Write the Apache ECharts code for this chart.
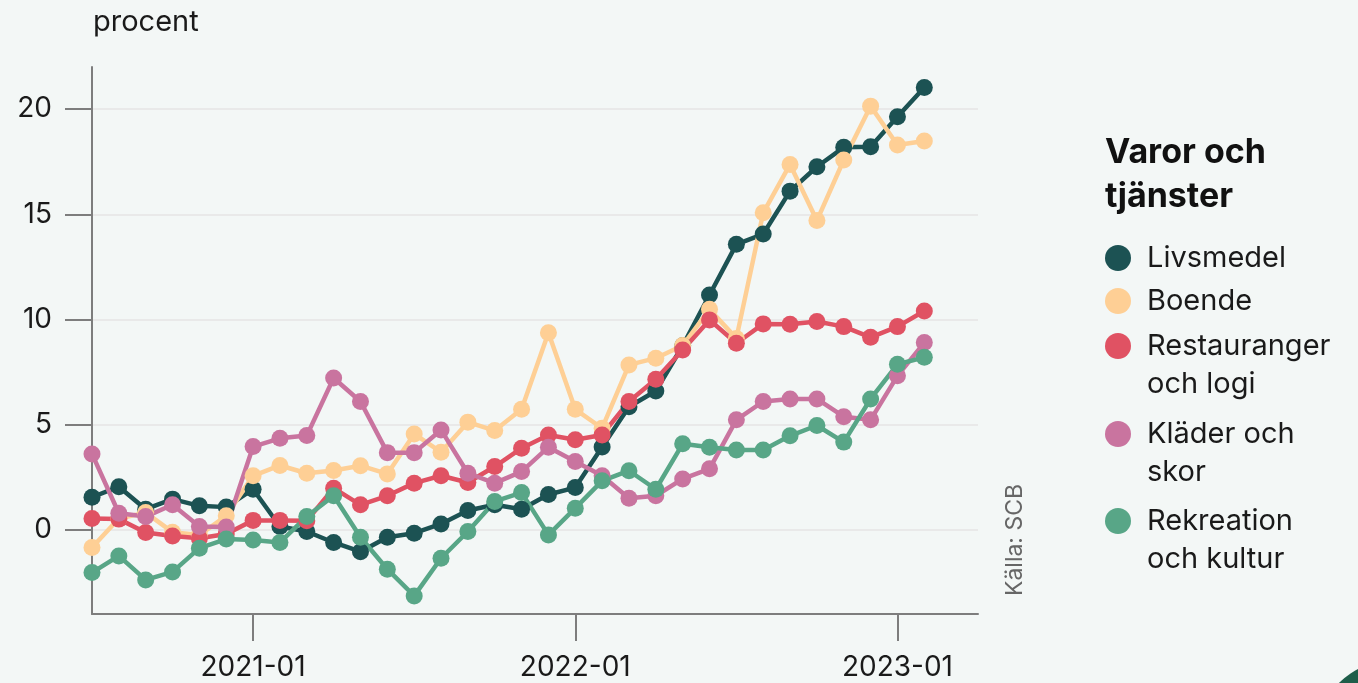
<!DOCTYPE html>
<html>
<head>
<meta charset="utf-8">
<script src="https://cdn.jsdelivr.net/npm/echarts@6/dist/echarts.min.js"></script>
<style>
html,body{margin:0;padding:0;background:#f3f7f6;}
#c{width:1358px;height:683px;}
</style>
</head>
<body>
<div id="c"></div>
<script>
const months = ['2020-07','2020-08','2020-09','2020-10','2020-11','2020-12',
 '2021-01','2021-02','2021-03','2021-04','2021-05','2021-06','2021-07','2021-08','2021-09','2021-10','2021-11','2021-12',
 '2022-01','2022-02','2022-03','2022-04','2022-05','2022-06','2022-07','2022-08','2022-09','2022-10','2022-11','2022-12',
 '2023-01','2023-02','2023-03','2023-04'];
const livsmedel = [1.55,2.05,0.98,1.46,1.14,1.08,1.93,0.16,-0.08,-0.6,-1.04,-0.35,-0.16,0.28,0.92,1.19,0.98,1.68,2.01,3.94,5.85,6.6,8.75,11.16,13.57,14.06,16.1,17.26,18.18,18.21,19.64,21.03,null,null];
const boende = [-0.84,0.54,0.82,-0.11,-0.25,0.67,2.57,3.06,2.69,2.82,3.05,2.66,4.56,3.69,5.12,4.72,5.73,9.37,5.73,4.83,7.84,8.16,8.76,10.48,9.1,15.07,17.37,14.7,17.58,20.14,18.29,18.48,null,null];
const restauranger = [0.54,0.51,-0.13,-0.29,-0.4,-0.2,0.45,0.45,0.43,1.98,1.19,1.62,2.22,2.57,2.25,3.01,3.88,4.51,4.28,4.51,6.1,7.16,8.55,9.98,8.87,9.79,9.77,9.9,9.66,9.15,9.66,10.4,null,null];
const klader = [3.61,0.79,0.63,1.19,0.16,0.13,3.96,4.35,4.48,7.22,6.1,3.67,3.67,4.75,2.69,2.22,2.77,3.93,3.25,2.57,1.5,1.62,2.42,2.9,5.23,6.1,6.22,6.22,5.38,5.23,7.32,8.9,null,null];
const rekreation = [-2.03,-1.24,-2.38,-2.0,-0.87,-0.44,-0.48,-0.6,0.63,1.62,-0.35,-1.87,-3.14,-1.35,-0.08,1.35,1.77,-0.24,1.03,2.33,2.81,1.93,4.09,3.93,3.8,3.8,4.47,4.96,4.17,6.22,7.87,8.2,null,null];
const yTicks = [0,5,10,15,20];
const seriesNames = ['Livsmedel','Boende','Restauranger och logi','Kläder och skor','Rekreation och kultur'];
const legendLabels = ['Livsmedel','Boende','Restauranger\noch logi','Kläder och\nskor','Rekreation\noch kultur'];
const colors = ['#1c5253','#fecf95','#e05263','#c9749f','#58a687'];
const seriesData = [livsmedel,boende,restauranger,klader,rekreation];

const FONT = 'Inter, "Noto Sans", sans-serif';
const chart = echarts.init(document.getElementById('c'));
const isYearStart = (i, v) => typeof v === 'string' ? v.endsWith('-01') : months[i].endsWith('-01');

const legendY = [258, 301, 346, 434, 521];
const graphics = [
  {type:'text', x:1105, y:153, style:{text:'Varor och', fontSize:34, fontWeight:'bold', fontFamily:FONT, fill:'#111', verticalAlign:'middle'}},
  {type:'text', x:1105, y:197, style:{text:'tjänster', fontSize:34, fontWeight:'bold', fontFamily:FONT, fill:'#111', verticalAlign:'middle'}},
  {type:'text', x:1015, y:540, rotation:Math.PI/2, style:{text:'Källa: SCB', fontSize:23, fontFamily:FONT, fill:'#666', align:'center', verticalAlign:'middle'}},
  {type:'text', x:93, y:22, style:{text:'procent', fontSize:29, fontFamily:FONT, fill:'#1a1a1a', verticalAlign:'middle'}},
  {type:'circle', shape:{cx:1395, cy:740, r:80}, style:{fill:'#1e5e4a'}}
];
legendLabels.forEach((lab, k) => {
  graphics.push({type:'circle', shape:{cx:1118, cy:legendY[k], r:13}, style:{fill:colors[k]}});
  graphics.push({type:'text', x:1147, y:legendY[k]-19, style:{text:lab, fontSize:29, lineHeight:38, fontFamily:FONT, fill:'#1a1a1a', verticalAlign:'top'}});
});

chart.setOption({
  backgroundColor:'#f3f7f6',
  animation:false,
  grid:{left:92, right:380, top:67, bottom:69, containLabel:false},
  xAxis:{
    type:'category', data:months, boundaryGap:false,
    axisLine:{onZero:false, lineStyle:{color:'#7d7d7d', width:2}},
    axisTick:{show:true, length:27, interval:(i,v)=>isYearStart(i,v), lineStyle:{color:'#7d7d7d', width:2}},
    axisLabel:{interval:(i,v)=>isYearStart(i,v), margin:40, fontSize:28, fontFamily:FONT, color:'#1a1a1a'},
    splitLine:{show:false}
  },
  yAxis:{
    type:'value', min:-4, max:22,
    axisLine:{show:true, lineStyle:{color:'#7d7d7d', width:2}},
    axisTick:{show:true, length:27, customValues:yTicks, lineStyle:{color:'#7d7d7d', width:2}},
    axisLabel:{customValues:yTicks, margin:40, fontSize:28, fontFamily:FONT, color:'#1a1a1a'},
    splitLine:{show:true, lineStyle:{color:'#e9e9e9', width:2}}
  },
  graphic:graphics,
  series: seriesData.map((d,k)=>({
    name:seriesNames[k], type:'line', data:d,
    symbol:'circle', symbolSize:17, showSymbol:true,
    itemStyle:{color:colors[k]},
    lineStyle:{color:colors[k], width:4.5}
  }))
});
</script>
</body>
</html>
